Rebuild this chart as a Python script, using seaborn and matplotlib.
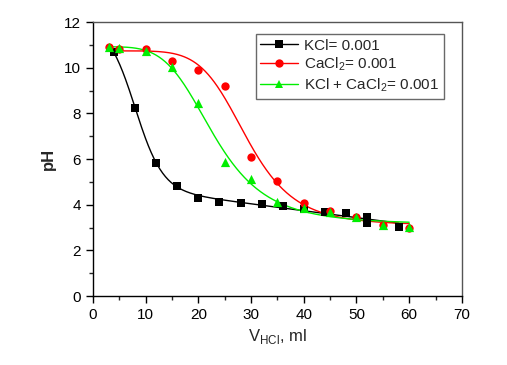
import numpy as np
import matplotlib
matplotlib.use("Agg")
import matplotlib.pyplot as plt
import seaborn as sns
from matplotlib.ticker import MultipleLocator

# ---- data ----
kcl_x = [4, 8, 12, 16, 20, 24, 28, 32, 36, 40, 44, 48, 52, 52, 58]
kcl_y = [10.67, 8.23, 5.81, 4.83, 4.31, 4.11, 4.08, 4.05, 3.96, 3.80, 3.70, 3.63, 3.44, 3.22, 3.03]

cacl2_x = [3, 5, 10, 15, 20, 25, 30, 35, 40, 45, 50, 55, 60]
cacl2_y = [10.9, 10.82, 10.8, 10.31, 9.9, 9.2, 6.11, 5.02, 4.08, 3.73, 3.44, 3.11, 3.0]

mix_x = [3, 5, 10, 15, 20, 25, 30, 35, 40, 45, 50, 55, 60]
mix_y = [10.92, 10.85, 10.73, 10.04, 8.44, 5.86, 5.13, 4.10, 3.86, 3.67, 3.44, 3.09, 3.03]

labels = ["KCl= 0.001", "CaCl$_2$= 0.001", "KCl + CaCl$_2$= 0.001"]
colors = ["#000000", "#ff0000", "#00ee00"]
markers = ["s", "o", "^"]
marker_sizes = [28, 36, 44]
fit_models = ["sigmoid_linear", "dose_response", "dose_response"]
x_ticks = [0, 10, 20, 30, 40, 50, 60, 70]
y_ticks = [0, 2, 4, 6, 8, 10, 12]


def fit_curve(x, y, xs, model):
    """Least-squares fit of a smooth titration curve to the data points."""
    x = np.asarray(x, float)
    y = np.asarray(y, float)
    best = None
    for x0 in np.linspace(2, 45, 216):
        for w in np.linspace(0.5, 12, 116):
            if model == "sigmoid_linear":
                def design(t):
                    s = 1.0 / (1.0 + np.exp((t - x0) / w))
                    return np.column_stack([np.ones_like(t), t, s])
            else:
                def design(t):
                    s = 1.0 / (1.0 + (t / x0) ** w)
                    return np.column_stack([np.ones_like(t), s])
            M = design(x)
            c, *_ = np.linalg.lstsq(M, y, rcond=None)
            r = np.sum((M @ c - y) ** 2)
            if best is None or r < best[0]:
                best = (r, design(xs) @ c)
    return best[1]


sns.set_theme(style="ticks")
plt.rcParams["font.family"] = ["Liberation Sans", "DejaVu Sans"]
plt.rcParams["mathtext.fontset"] = "custom"
plt.rcParams["mathtext.rm"] = "Liberation Sans"

fig = plt.figure(figsize=(5.07, 3.65), dpi=100)
ax = fig.add_axes([0.1834, 0.189, 0.7276, 0.7505])

series = [(kcl_x, kcl_y), (cacl2_x, cacl2_y), (mix_x, mix_y)]
for (xd, yd), col, mk, ms, model in zip(series, colors, markers, marker_sizes, fit_models):
    xs = np.linspace(min(xd), max(xd), 300)
    ys = fit_curve(xd, yd, xs, model)
    sns.lineplot(x=xs, y=ys, ax=ax, color=col, linewidth=1.0, legend=False)
    sns.scatterplot(x=xd, y=yd, ax=ax, color=col, marker=mk, s=ms,
                    edgecolor=col, linewidth=0, legend=False, zorder=3)

handles = [plt.Line2D([], [], color=c, marker=m, markersize=6, linewidth=1.0,
                      markeredgewidth=0) for c, m in zip(colors, markers)]
leg = ax.legend(handles, labels, loc="upper right", bbox_to_anchor=(0.9515, 0.956),
                borderaxespad=0, frameon=True, fancybox=False, fontsize=11,
                handlelength=2.5, borderpad=0.3, labelspacing=0.2, handletextpad=0.4)
leg.get_frame().set_edgecolor("#444444")
leg.get_frame().set_linewidth(1.0)

ax.set_xlim(0, 70)
ax.set_ylim(0, 12)
ax.set_xticks(x_ticks)
ax.set_yticks(y_ticks)
ax.xaxis.set_minor_locator(MultipleLocator(5))
ax.yaxis.set_minor_locator(MultipleLocator(1))
ax.tick_params(which="major", direction="out", length=5, width=1, labelsize=11,
               colors="black", top=False, right=False)
ax.tick_params(which="minor", direction="out", length=3, width=1, top=False, right=False)
for sp in ax.spines.values():
    sp.set_visible(True)
    sp.set_linewidth(1.0)
    sp.set_color("black")
ax.spines["top"].set_color("#555555")
ax.spines["right"].set_color("#555555")

ax.set_xlabel("V$_{\\mathrm{HCl}}$, ml", fontsize=12, labelpad=4)
ax.set_ylabel("pH", fontsize=12, fontweight="bold", labelpad=6)

fig.savefig("out.png", dpi=100)
